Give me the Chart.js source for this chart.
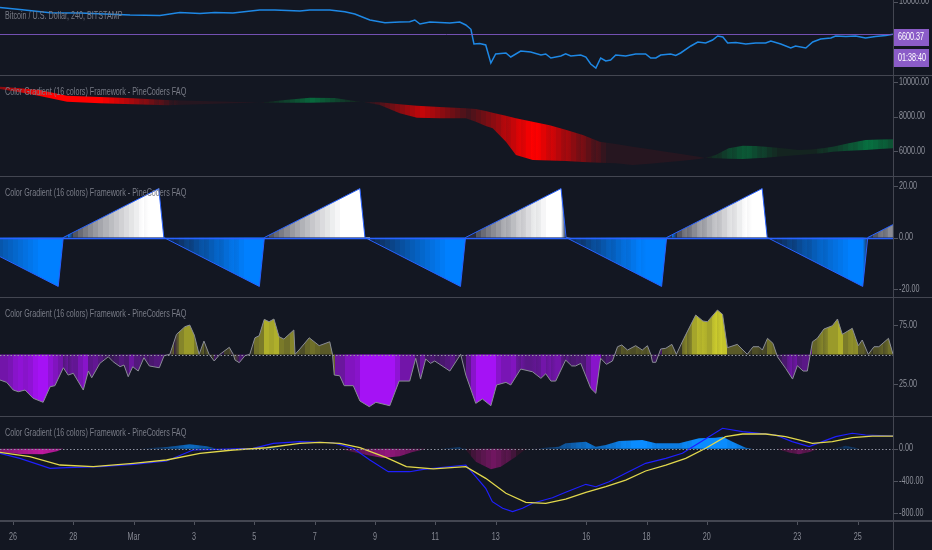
<!DOCTYPE html>
<html lang="en">
<head>
<meta charset="UTF-8">
<title>Bitcoin / U.S. Dollar, 240 - Color Gradient Framework</title>
<script src="https://cdn.jsdelivr.net/npm/chart.js"></script>
<style>
  html, body { margin: 0; padding: 0; background: #131722; }
  #board { position: relative; width: 932px; height: 550px; overflow: hidden; background: #131722; }
  #board canvas { position: absolute; left: 0; display: block; }
  .rule { position: absolute; background: #434651; }
</style>
</head>
<body>
<div id="board">
  <canvas id="pricePane" width="932" height="75" style="top:0"></canvas>
  <canvas id="maPane" width="932" height="100" style="top:76px"></canvas>
  <canvas id="sawPane" width="932" height="120" style="top:177px"></canvas>
  <canvas id="oscPane" width="932" height="118" style="top:298px"></canvas>
  <canvas id="macdPane" width="932" height="133" style="top:417px"></canvas>
  <div class="rule" style="left:0;top:75px;width:932px;height:1px"></div>
  <div class="rule" style="left:0;top:176px;width:932px;height:1px"></div>
  <div class="rule" style="left:0;top:297px;width:932px;height:1px"></div>
  <div class="rule" style="left:0;top:416px;width:932px;height:1px"></div>
  <div class="rule" style="left:0;top:520px;width:932px;height:2px"></div>
  <div class="rule" style="left:893px;top:0;width:1px;height:550px"></div>
</div>

<script>
// x values are days after 26 Feb 00:00, one bar = 4h
const dateTicks = [0, 2, 4, 6, 8, 10, 12, 14, 16, 19, 21, 23, 26, 28];
const dateLabels = ['26', '28', 'Mar', '3', '5', '7', '9', '11', '13', '16', '18', '20', '23', '25'];

// pane 1 - BTCUSD close
const priceDays = [-0.43,0.23,1.23,2.22,3.88,4.87,5.53,6.20,6.69,7.29,8.18,8.68,9.51,9.84,10.50,11.00,11.33,11.83,12.33,12.82,
  13.15,13.32,13.49,13.82,14.48,14.81,15.01,15.18,15.28,15.47,15.67,15.84,16.00,16.34,16.50,16.83,17.16,17.50,17.66,17.83,
  18.16,18.32,18.49,18.82,18.99,19.15,19.32,19.48,19.65,19.81,19.98,20.31,20.64,20.97,21.14,21.31,21.47,21.80,21.97,22.13,
  22.47,22.70,22.96,23.19,23.36,23.53,23.69,23.96,24.29,24.62,24.95,25.12,25.45,25.78,25.94,26.28,26.51,26.77,27.11,27.27,
  27.61,27.93,28.26,28.59,28.93,29.17];
const priceClose = [9288,9054,8700,8659,8441,8387,8715,8604,8715,8659,8996,8996,8883,8996,8996,8790,8550,7920,7651,7720,
  7750,7920,7526,7720,7623,7720,7431,7035,5833,5870,5759,4578,5134,5201,4942,5335,5267,5070,5134,4880,
  5006,5154,5006,5070,4942,4521,4296,4880,4697,4757,5070,5006,5134,5134,4880,4880,5070,5134,5038,5201,
  5686,5983,5907,6138,6459,6377,5907,5946,5833,5907,5907,6060,5833,5543,5686,5543,5983,6217,6296,6459,
  6418,6459,6296,6418,6500,6600.37];
const lastPrice = 6600.37;
const countdown = '01:38:40';
const priceTicks = [10000];

// pane 2 - fast / slow moving averages
const maDays = [-0.43,0.23,0.89,1.79,2.88,3.98,5.10,6.20,7.19,8.18,9.01,9.84,10.67,11.33,11.56,12.16,12.82,13.39,14.15,15.01,
  15.34,15.67,15.90,16.34,16.67,17.23,17.79,18.32,18.89,19.45,19.98,20.54,21.11,21.64,22.20,22.73,22.93,23.29,23.72,24.19,
  24.62,24.95,25.51,26.04,26.44,26.84,27.17,27.70,28.26,28.73,29.17];
const slowMA = [9728,9635,9536,9206,9130,9055,8957,8899,8858,8800,8800,8800,8823,8841,8858,8823,8707,8626,8551,8475,
  8435,8319,8220,8040,7900,7699,7500,7230,6928,6539,6400,6249,6100,5959,5810,5670,5600,5577,5554,5536,
  5577,5612,5693,5768,5826,5867,5959,6017,6058,6116,6157];
const fastMA = [9594,9403,9188,8858,8765,8707,8649,8707,8765,8800,8957,9090,9072,8899,8858,8667,8186,7930,7896,7896,
  7699,7449,7316,6539,5768,5478,5449,5420,5362,5320,5287,5188,5260,5345,5440,5536,5600,5768,6157,6307,
  6290,6249,6157,6058,6087,6157,6249,6446,6638,6667,6678];
const maTicks = [10000, 8000, 6000];

// pane 3 - sawtooth test signal
const sawDays = [-0.5,1.5,1.6667,4.8333,5.0,8.1667,8.3333,11.5,11.6667,14.8333,15.0,18.1667,18.3333,21.5,21.6667,24.8333,25.0,28.1667,28.3333,29.1667];
const sawValue = [-7,-19,0,19,0,-19,0,19,0,-19,0,19,0,-19,0,19,0,-19,0,5];
const sawTicks = [20, 0, -20];

// pane 4 - oscillator around 50
const oscDays = [-0.43,-0.21,0.01,0.18,0.40,0.67,1.00,1.23,1.39,1.67,1.83,2.00,2.33,2.50,2.61,2.88,3.16,3.32,3.55,3.68,
  3.82,3.97,4.15,4.34,4.52,4.85,5.01,5.20,5.42,5.70,5.86,6.01,6.17,6.33,6.50,6.67,6.86,7.17,7.30,7.36,
  7.50,7.69,7.85,8.02,8.16,8.33,8.49,8.65,8.82,8.98,9.31,9.35,9.51,9.82,10.15,10.50,10.59,10.65,10.83,10.98,
  11.28,11.50,11.81,12.03,12.49,12.80,13.15,13.35,13.51,13.68,13.84,13.98,14.48,14.84,15.01,15.34,15.56,15.84,16.03,16.34,
  16.50,16.83,17.22,17.50,17.66,17.83,17.99,18.32,18.52,18.65,18.82,19.15,19.32,19.48,19.67,19.87,20.04,20.18,20.37,20.64,
  20.86,21.03,21.14,21.20,21.31,21.47,21.64,21.84,21.99,22.24,22.63,22.87,23.02,23.35,23.52,23.68,24.01,24.34,24.53,24.73,
  24.84,25.01,25.19,25.34,25.61,25.84,26.00,26.19,26.33,26.50,26.66,26.88,27.16,27.33,27.49,27.82,28.02,28.15,28.35,28.54,
  28.70,29.02,29.17];
const oscValue = [28.4,26.4,19.9,18.5,19.9,12.9,9.5,22.7,23.6,38.8,32.6,34.1,19.9,36.0,30.3,42.5,48.1,43.9,39.7,41.1,
  31.2,39.7,36.0,47.3,40.3,38.8,49.0,50.2,67.1,73.6,75.0,66.5,50.2,61.4,50.2,44.5,50.2,56.1,50.2,45.3,
  43.1,49.0,50.2,64.2,65.9,79.8,77.8,80.1,65.1,63.1,70.8,50.2,54.7,64.2,57.5,60.8,50.2,32.6,32.0,23.6,
  23.6,10.6,5.8,9.5,6.6,27.5,27.5,46.8,29.2,46.2,42.5,44.5,36.0,50.2,32.6,8.6,12.3,6.6,24.2,26.4,
  24.2,37.7,35.4,29.8,33.7,27.5,27.5,45.3,40.3,40.3,42.5,21.4,17.1,46.8,41.7,44.5,56.6,58.1,53.8,57.5,
  53.8,57.5,50.2,43.4,43.4,54.7,55.3,58.6,50.2,63.7,83.5,78.4,77.8,87.7,84.1,55.8,58.6,50.2,56.6,56.6,
  53.8,63.7,59.5,48.1,38.3,29.2,40.5,36.0,36.0,60.8,63.7,71.6,74.4,80.1,67.1,72.2,57.5,62.3,50.2,56.6,
  56.6,63.7,50.2];
const oscMid = 50;
const oscTicks = [75, 25];

// pane 5 - MACD, signal, histogram
const macdDays = [-0.43,0.23,1.23,1.78,2.88,3.99,5.09,5.97,7.08,7.96,8.63,9.51,10.61,11.28,11.83,12.44,13.15,13.60,15.01,15.34,
  15.67,15.89,16.23,16.56,16.89,17.22,17.88,18.32,18.99,19.32,19.76,20.31,20.97,21.64,22.19,22.63,23.07,23.52,24.18,24.73,
  25.28,25.83,26.39,26.83,27.27,27.82,28.26,29.17];
const macdValue = [-57,-119,-243,-235,-223,-193,-152,-16,-4,5,67,87,74,5,-140,-285,-285,-255,-202,-347,
  -490,-656,-738,-780,-738,-676,-607,-540,-441,-471,-409,-305,-181,-119,-57,46,149,253,211,191,
  170,87,25,87,149,191,170,157];
const signalDays = [-0.43,0.56,1.56,2.66,3.99,5.09,6.20,7.30,8.41,9.51,10.17,10.83,11.50,12.38,13.04,13.93,15.01,15.67,16.34,17.00,
  17.66,18.32,18.99,19.65,20.31,20.97,21.64,22.30,22.96,23.62,24.18,24.95,25.61,26.05,26.50,27.16,27.82,28.48,29.17];
const signalValue = [-45,-99,-202,-223,-181,-140,-57,-16,12,67,79,67,12,-111,-223,-251,-223,-367,-552,-664,
  -676,-623,-540,-471,-388,-276,-202,-119,5,149,182,182,149,108,67,87,136,157,157];
const histDays = [-0.43,0.23,0.99,1.46,1.66,4.21,5.10,5.86,6.43,6.76,8.08,8.58,9.08,10.83,11.27,11.73,12.26,12.82,13.25,13.72,
  14.15,14.81,14.91,15.01,15.34,15.84,16.17,16.67,17.00,17.43,18.09,18.32,18.99,19.32,19.65,20.09,20.86,21.31,22.08,22.74,
  23.29,23.52,23.85,24.29,24.51,25.28,25.75,26.05,26.41,26.71,27.17,27.60,28.07,29.17];
const histValue = [-45,-66,-69,-32,0,0,21,54,30,0,0,21,0,0,-41,-78,-115,-94,-41,0,
  0,17,0,-16,-161,-255,-223,-99,-4,5,25,67,87,25,46,95,108,67,67,129,
  136,149,87,12,0,0,-50,-69,-41,0,0,37,0,0];
const macdTicks = [0, -400, -800];

const TITLE = 'Color Gradient (16 colors) Framework - PineCoders FAQ';
const BAR = 1 / 6;
const xMin = -0.43, xMax = 29.17;

const pts = (xs, ys) => xs.map((x, i) => ({ x, y: ys[i] }));

function interp(xs, ys, t) {
  if (t <= xs[0]) return ys[0];
  if (t >= xs[xs.length - 1]) return ys[ys.length - 1];
  let i = 1;
  while (xs[i] < t) i++;
  const f = (t - xs[i - 1]) / (xs[i] - xs[i - 1]);
  return ys[i - 1] + f * (ys[i] - ys[i - 1]);
}

function mix(a, b, f) {
  return 'rgb(' + a.map((v, i) => Math.round(v + (b[i] - v) * f)).join(',') + ')';
}
function palette(dark, bright, gamma) {
  return Array.from({ length: 16 }, (_, i) => mix(dark, bright, Math.pow(i / 15, gamma || 1)));
}

const maBull = palette([20, 36, 32], [0, 150, 80]);
const maBear = palette([38, 22, 32], [255, 0, 0]);
const sawUp = palette([42, 44, 58], [255, 255, 255], 0.6);
const sawDown = palette([16, 36, 72], [0, 128, 255], 0.8);
const oscUp = palette([50, 50, 38], [215, 215, 45], 0.9);
const oscDown = palette([46, 26, 70], [165, 18, 245], 0.9);
const histUp = palette([16, 38, 70], [10, 140, 255], 0.8);
const histDown = palette([44, 20, 40], [190, 25, 160], 0.7);

// per-bar sampling of a piecewise series (colour only, the plotted data stay as read)
function eachBar(fn) {
  const out = [];
  for (let k = Math.floor(xMin * 6) - 1; k / 6 <= xMax + BAR; k++) out.push(fn(k / 6));
  return out;
}

// advance/decline colouring: one step brighter each bar the distance from
// the centre grows, one step darker when it shrinks, reset on a side change
function trendSteps(src) {
  let lvl = 7, prevSign = null, prevAbs = 0;
  return eachBar(t => {
    const v = src(t), s = Math.sign(v), a = Math.abs(v);
    if (prevSign !== null) {
      if (s !== prevSign) lvl = 0;
      else if (a > prevAbs + 1e-3) lvl = Math.min(15, lvl + 1);
      else if (a < prevAbs - 1e-3) lvl = Math.max(0, lvl - 1);
    }
    prevSign = s; prevAbs = a;
    return { t, s, lvl };
  });
}

// colouring by distance from the centre line
function distanceSteps(src, full) {
  return eachBar(t => {
    const v = src(t);
    return { t, s: Math.sign(v), lvl: Math.min(15, Math.round(15 * Math.abs(v) / full)) };
  });
}

const maSteps = trendSteps(t => interp(maDays, fastMA, t) - interp(maDays, slowMA, t));
const sawSteps = trendSteps(t => interp(sawDays, sawValue, t));
const oscSteps = distanceSteps(t => interp(oscDays, oscValue, t) - oscMid, 40);
const histSteps = trendSteps(t => interp(histDays, histValue, t));

function stripFill(chart, steps, up, down) {
  const area = chart.chartArea;
  if (!area) return 'rgba(0,0,0,0)';
  const x = chart.scales.x, w = area.right - area.left;
  const g = chart.ctx.createLinearGradient(area.left, 0, area.right, 0);
  const pos = t => Math.min(1, Math.max(0, (x.getPixelForValue(t) - area.left) / w));
  steps.forEach(st => {
    const c = (st.s < 0 ? down : up)[st.lvl];
    g.addColorStop(pos(st.t), c);
    g.addColorStop(pos(st.t + BAR), c);
  });
  return g;
}

function squeeze(ctx, text, x, y, color, align) {
  ctx.save();
  ctx.font = '10px "Liberation Sans", Arial, sans-serif';
  ctx.fillStyle = color;
  ctx.textAlign = align || 'left';
  ctx.textBaseline = 'middle';
  ctx.translate(x, y);
  ctx.scale(0.72, 1);
  ctx.fillText(text, 0, 0);
  ctx.restore();
}

const decoPlugin = {
  id: 'deco',
  afterDatasetsDraw(chart, _args, o) {
    const { ctx, chartArea: a } = chart, y = chart.scales.y;
    (o.levels || []).forEach(l => {
      const py = Math.round(y.getPixelForValue(l.value)) + 0.5;
      ctx.save();
      ctx.strokeStyle = l.color;
      ctx.lineWidth = l.width;
      ctx.setLineDash(l.dash || []);
      ctx.beginPath();
      ctx.moveTo(a.left, py);
      ctx.lineTo(a.right, py);
      ctx.stroke();
      ctx.restore();
    });
  },
  afterDraw(chart, _args, o) {
    const { ctx, chartArea: a, scales } = chart, y = scales.y;
    squeeze(ctx, o.title, a.left + 5, a.top + 16.5, '#787b86');
    y.ticks.forEach(t => {
      const py = y.getPixelForValue(t.value);
      ctx.fillStyle = '#50535e';
      ctx.fillRect(a.right + 1, Math.round(py), 4, 1);
      squeeze(ctx, t.value.toFixed(2), a.right + 6, py, '#8c8f99');
    });
    if (o.dates) {
      const x = scales.x;
      x.ticks.forEach(t => {
        const px = x.getPixelForValue(t.value);
        const i = dateTicks.indexOf(t.value);
        ctx.fillStyle = '#50535e';
        ctx.fillRect(Math.round(px), x.top + 1, 1, 3);
        squeeze(ctx, dateLabels[i], px, x.top + 16, '#868993', 'center');
      });
    }
    if (o.lastPrice) {
      const py = Math.round(y.getPixelForValue(o.lastPrice));
      ctx.fillStyle = '#8b5cc8';
      ctx.fillRect(a.right + 1, py - 5, 35, 17);
      ctx.fillRect(a.right + 1, py + 15, 35, 18);
      squeeze(ctx, o.lastPrice.toFixed(2), a.right + 5, py + 3.5, '#ffffff');
      squeeze(ctx, o.countdown, a.right + 5, py + 24, '#ffffff');
    }
  }
};

function yAxis(type, min, max, ticks) {
  return {
    type, position: 'right', min, max,
    ticks: { display: false },
    grid: { display: false },
    border: { display: false },
    afterBuildTicks: s => { s.ticks = ticks.map(v => ({ value: v })); },
    afterFit: s => { s.width = 39; }
  };
}

function paneChart(id, datasets, y, deco, showDates) {
  return new Chart(document.getElementById(id), {
    type: 'line',
    data: { datasets },
    options: {
      responsive: false,
      animation: false,
      events: [],
      layout: { padding: 0 },
      elements: { point: { radius: 0 }, line: { tension: 0 } },
      scales: {
        x: {
          type: 'linear', min: xMin, max: xMax, display: showDates,
          ticks: { display: false },
          grid: { display: false },
          border: { display: false },
          afterBuildTicks: s => { s.ticks = dateTicks.map(v => ({ value: v })); },
          afterFit: s => { s.height = showDates ? 29 : 0; }
        },
        y
      },
      plugins: { legend: { display: false }, tooltip: { enabled: false }, deco }
    },
    plugins: [decoPlugin]
  });
}

paneChart('pricePane', [
  { data: pts(priceDays, priceClose), borderColor: '#1e88e5', borderWidth: 1.5, fill: false }
], yAxis('logarithmic', 3929, 10219, priceTicks), {
  title: 'Bitcoin / U.S. Dollar, 240, BITSTAMP',
  levels: [{ value: lastPrice, color: 'rgba(126,87,194,0.9)', width: 1 }],
  lastPrice, countdown
}, false);

paneChart('maPane', [
  { data: pts(maDays, slowMA), borderColor: 'rgba(0,0,0,0)', borderWidth: 0, fill: false },
  { data: pts(maDays, fastMA), borderColor: 'rgba(0,0,0,0)', borderWidth: 0, fill: '-1',
    pointBackgroundColor: 'rgba(0,0,0,0)',
    backgroundColor: c => stripFill(c.chart, maSteps, maBull, maBear) }
], yAxis('linear', 4551, 10348, maTicks), { title: TITLE }, false);

paneChart('sawPane', [
  { data: pts(sawDays, sawValue), borderColor: '#2962ff', borderWidth: 1, fill: { value: 0 },
    pointBackgroundColor: 'rgba(0,0,0,0)',
    backgroundColor: c => stripFill(c.chart, sawSteps, sawUp, sawDown) }
], yAxis('linear', -23.1, 23.5, sawTicks), {
  title: TITLE,
  levels: [{ value: 0, color: '#2962ff', width: 1.5 }]
}, false);

paneChart('oscPane', [
  { data: pts(oscDays, oscValue), borderColor: '#8a8d96', borderWidth: 1, fill: { value: oscMid },
    pointBackgroundColor: 'rgba(0,0,0,0)',
    backgroundColor: c => stripFill(c.chart, oscSteps, oscUp, oscDown) }
], yAxis('linear', -2.1, 97.9, oscTicks), {
  title: TITLE,
  levels: [{ value: oscMid, color: '#9598a1', width: 1, dash: [1.5, 2] }]
}, false);

paneChart('macdPane', [
  { data: pts(signalDays, signalValue), borderColor: '#e2d84c', borderWidth: 1.3, fill: false, order: 0 },
  { data: pts(macdDays, macdValue), borderColor: '#1f1fff', borderWidth: 1.2, fill: false, order: 1 },
  { data: pts(histDays, histValue), borderColor: 'rgba(0,0,0,0)', borderWidth: 0, fill: { value: 0 }, order: 2,
    pointBackgroundColor: 'rgba(0,0,0,0)',
    backgroundColor: c => stripFill(c.chart, histSteps, histUp, histDown) }
], yAxis('linear', -895.3, 392.6, macdTicks), {
  title: TITLE,
  levels: [{ value: 0, color: '#8f92a0', width: 1, dash: [1.5, 2] }],
  dates: true
}, true);
</script>
</body>
</html>
